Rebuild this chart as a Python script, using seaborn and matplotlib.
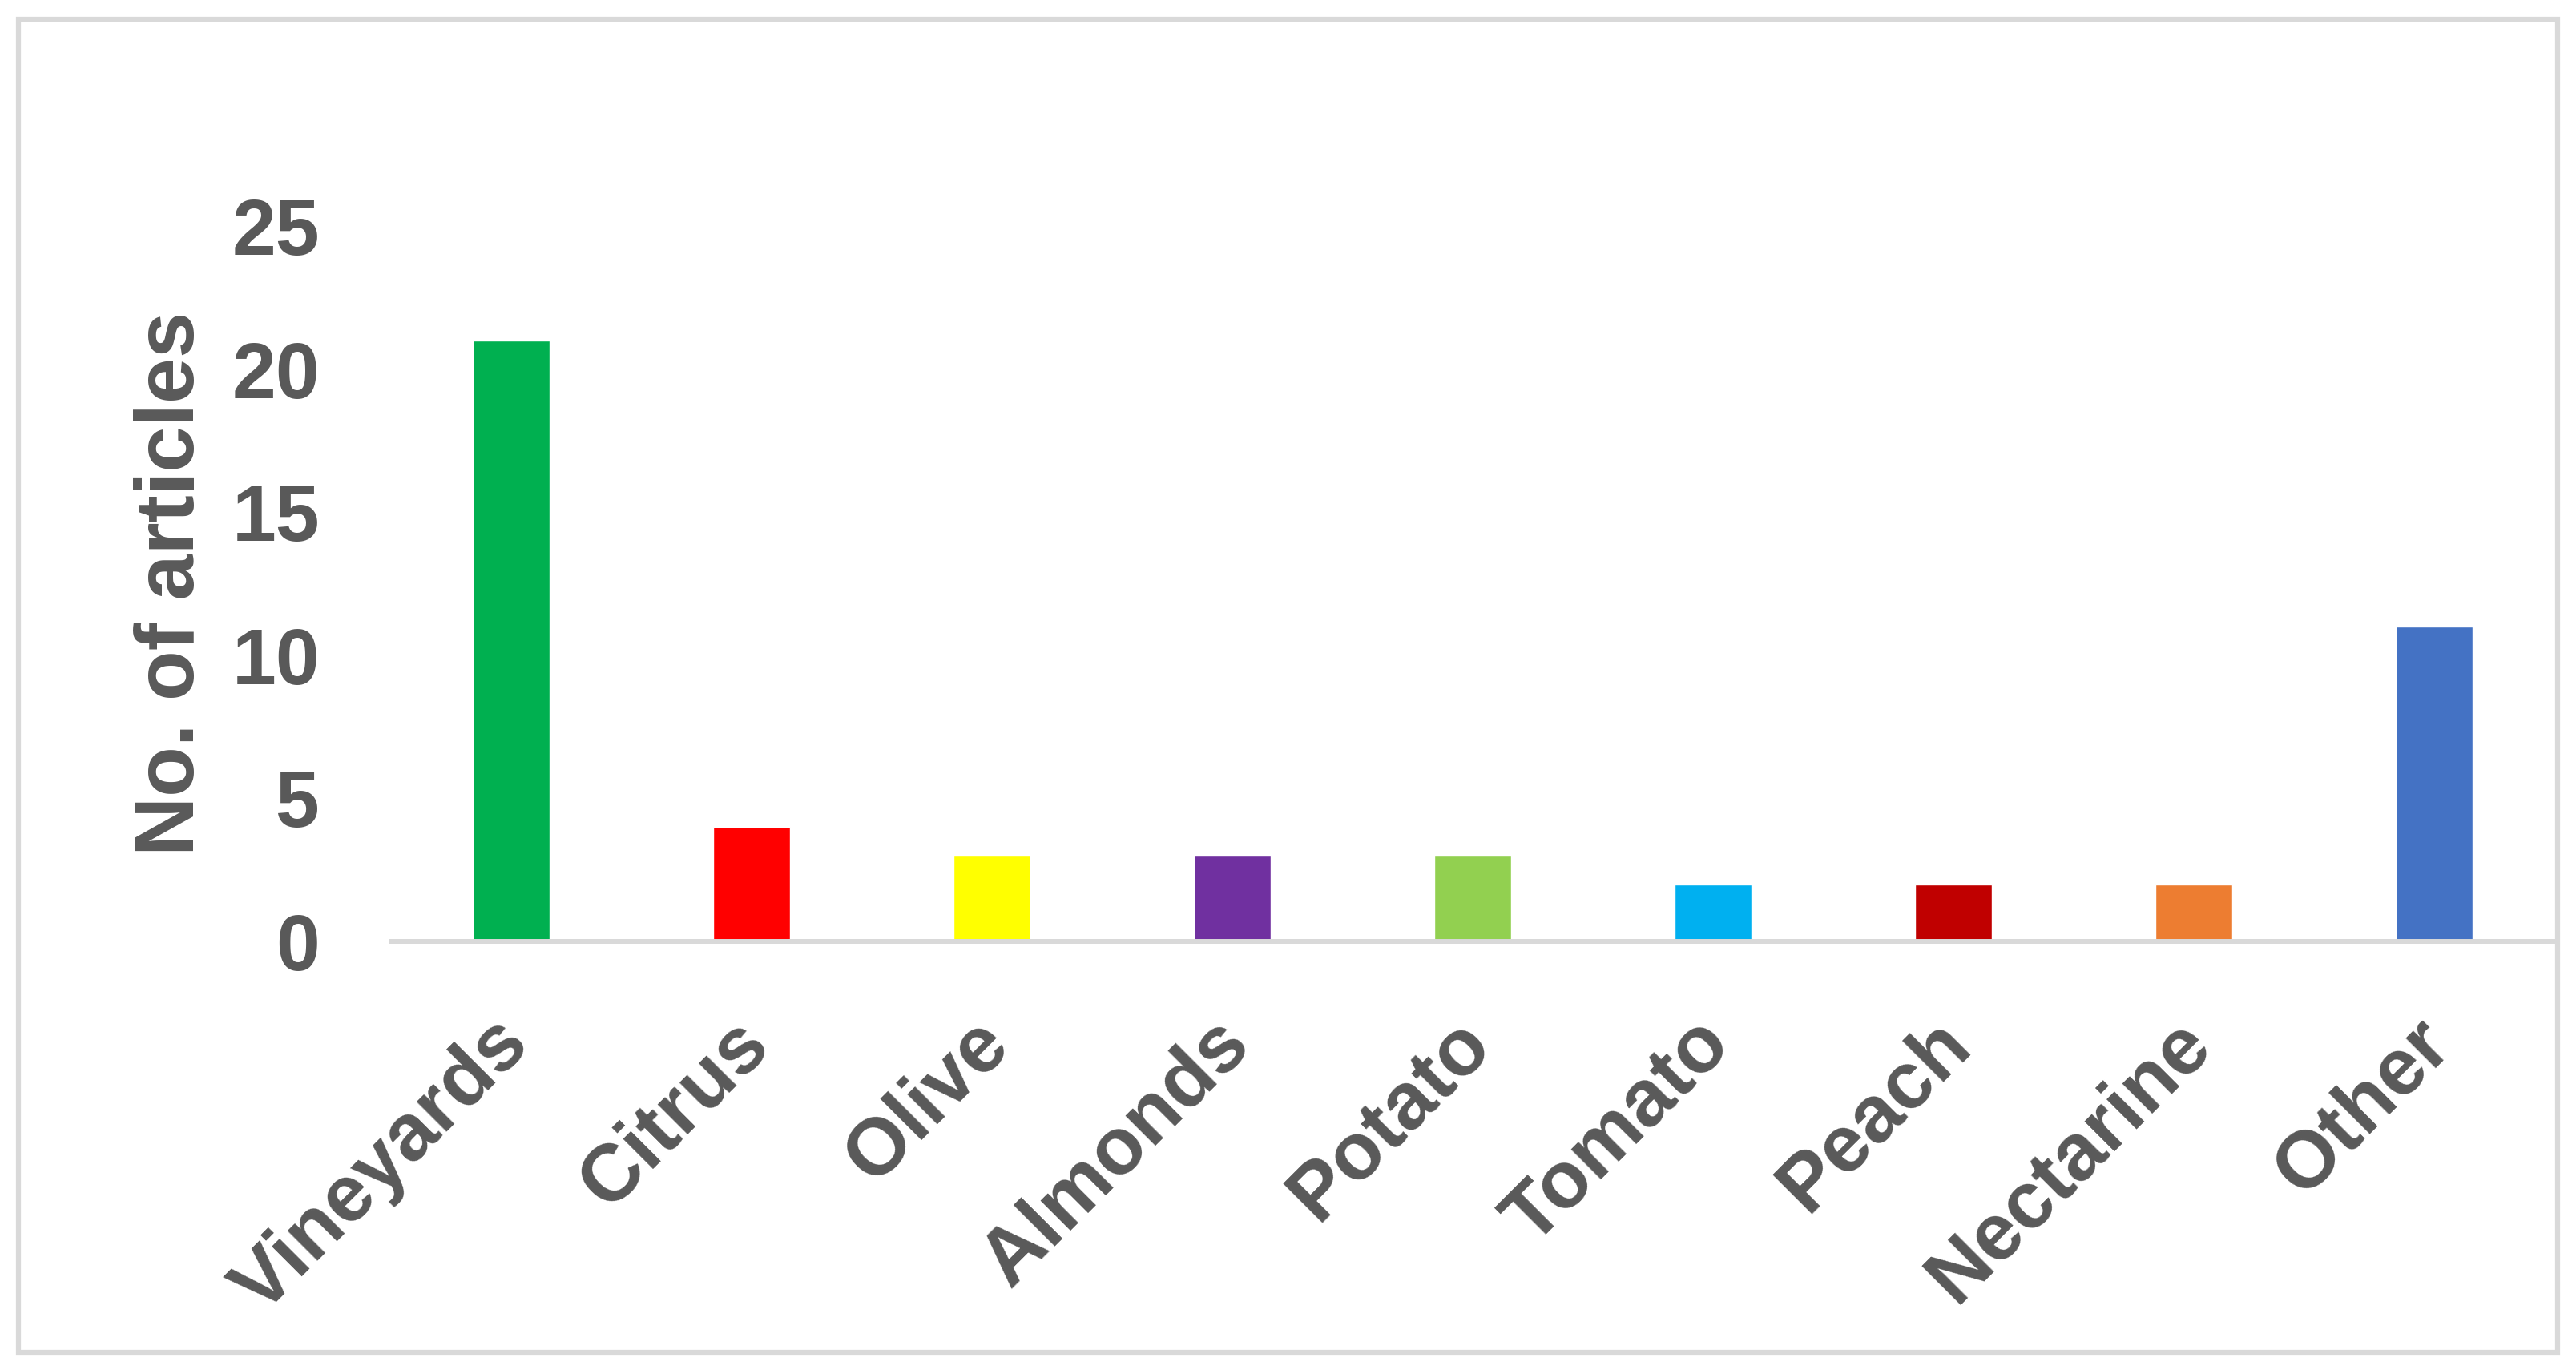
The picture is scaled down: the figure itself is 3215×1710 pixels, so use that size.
import matplotlib
matplotlib.use("Agg")
import matplotlib.pyplot as plt
import matplotlib.transforms as mtransforms
from matplotlib.patches import Rectangle
import seaborn as sns
import pandas as pd

crops = ["Vineyards", "Citrus", "Olive", "Almonds", "Potato",
         "Tomato", "Peach", "Nectarine", "Other"]
articles = [21, 4, 3, 3, 3, 2, 2, 2, 11]
bar_colors = ["#00B050", "#FF0000", "#FFFF00", "#7030A0", "#92D050",
              "#00B0F0", "#C00000", "#ED7D31", "#4472C4"]
y_ticks = [0, 5, 10, 15, 20, 25]

TEXT = "#595959"
LINE = "#D9D9D9"

sns.set_style("white")
plt.rcParams["font.family"] = ["Liberation Sans", "DejaVu Sans"]
plt.rcParams["font.weight"] = "bold"

df = pd.DataFrame({"crop": crops, "n": articles})

W, H, DPI = 3215, 1710, 100
fig = plt.figure(figsize=(W / DPI, H / DPI), dpi=DPI)
ax = fig.add_axes([488 / W, 1 - 1175 / H, (3188 - 488) / W, (1175 - 282.5) / H])

sns.barplot(data=df, x="crop", y="n", hue="crop", palette=bar_colors,
            width=0.32, saturation=1, legend=False, ax=ax)

ax.set_xlim(-0.5, len(crops) - 0.5)
ax.set_ylim(0, 25)
ax.set_yticks(y_ticks)
ax.set_xlabel("")
ax.set_ylabel("No. of articles", fontsize=74, fontweight="bold", color=TEXT, labelpad=18)

ax.tick_params(axis="y", length=0, pad=64, labelsize=71, labelcolor=TEXT)
ax.tick_params(axis="x", length=0, pad=72, labelsize=72, labelcolor=TEXT)
for lab in ax.get_yticklabels():
    lab.set_fontweight("bold")
# nudge rotated labels so their ends sit under the bar centres
shift = mtransforms.ScaledTranslation(40 / DPI, 20 / DPI, fig.dpi_scale_trans)
for lab in ax.get_xticklabels():
    lab.set_rotation(45)
    lab.set_ha("right")
    lab.set_fontweight("bold")
    lab.set_transform(lab.get_transform() + shift)

for side in ["left", "right", "top"]:
    ax.spines[side].set_visible(False)
ax.spines["bottom"].set_color(LINE)
ax.spines["bottom"].set_linewidth(4.3)

# outer chart-area border
fig.patches.append(Rectangle((23 / W, 1 - 1688 / H), (3192 - 23) / W, (1688 - 24.5) / H,
                             transform=fig.transFigure, fill=False,
                             edgecolor=LINE, linewidth=4.5))

fig.savefig("out.png", dpi=DPI, facecolor="white")
